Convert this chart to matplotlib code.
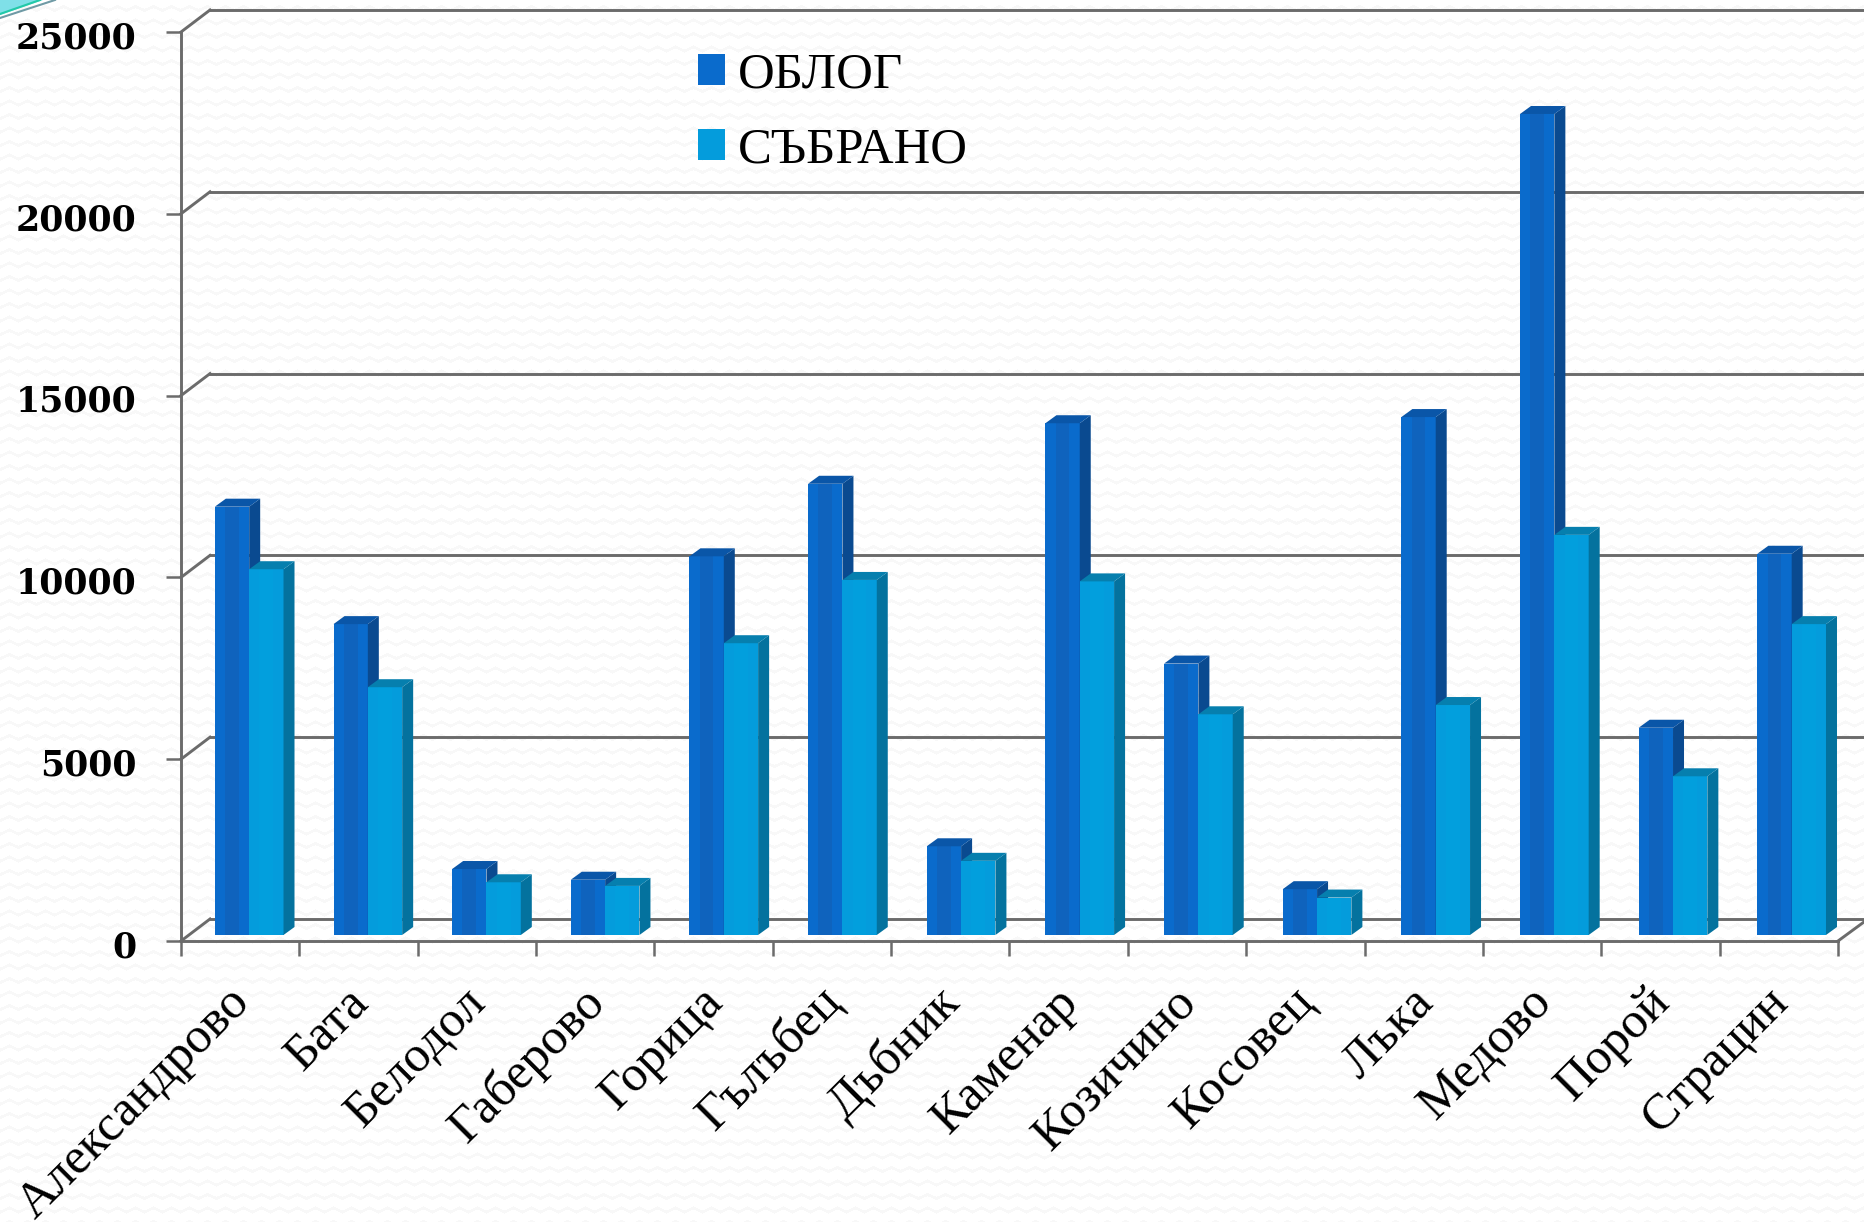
import numpy as np
import matplotlib
matplotlib.use('Agg')
import matplotlib.pyplot as plt
from matplotlib.patches import Patch, Polygon
from matplotlib.transforms import offset_copy

# стойности, отчетени от графиката
villages = ['Александрово', 'Бата', 'Белодол', 'Габерово', 'Горица', 'Гълъбец', 'Дъбник',
            'Каменар', 'Козичино', 'Косовец', 'Лъка', 'Медово', 'Порой', 'Страцин']
oblog = [11780, 8550, 1815, 1520, 10415, 12410, 2440, 14075, 7465, 1260, 14245, 22580, 5700, 10485]
sabrano = [10060, 6815, 1450, 1350, 8025, 9765, 2040, 9725, 6070, 1030, 6325, 11005, 4365, 8550]
y_ticks = [0, 5000, 10000, 15000, 20000, 25000]
series_names = ['ОБЛОГ', 'СЪБРАНО']

W, H = 1864, 1222
GREY = '#6b6b6b'
BAR_W = 0.29
SPACING = 1.0025

fig = plt.figure(figsize=(W / 100, H / 100), dpi=100, facecolor='white')

# фонът е бял с много бледи вълнички
yy, xx = np.mgrid[0:H, 0:W]
wave = np.abs(((xx % 18) / 9.0) - 1) * 4
dist = np.abs(((yy - wave) % 13.5) - 6)
bg = np.where(dist < 1.6, 0.972, 1.0)
fig.figimage(bg, cmap='gray', vmin=0, vmax=1, zorder=-5, origin='upper')

ax = fig.add_axes([181 / W, (H - 941) / H, (1838 - 181) / W, 909 / H])
ax.set_xlim(0, 14)
ax.set_ylim(0, 25000)
ax.patch.set_visible(False)


def shifted(dx, dy):
    return offset_copy(ax.transData, fig=fig, x=dx, y=dy, units='dots')


# задна стена: линиите са изместени с дълбочината
wall = shifted(29, 22)
for v in y_ticks:
    ax.plot([0, 15], [v, v], color=GREY, lw=2.1, transform=wall, clip_on=False, zorder=1)
    x0, y0 = ax.transData.transform((0, v))
    ax.add_line(plt.Line2D([x0, x0 + 29], [y0, y0 + 22], color=GREY, lw=2.1,
                           transform=None, zorder=1, clip_on=False))
x1, y1 = ax.transData.transform((14, 0))
ax.add_line(plt.Line2D([x1, x1 + 30], [y1, y1 + 22], color=GREY, lw=2.1, transform=None, zorder=1,
                       clip_on=False))

# колоните: лице, страна и горна част
front = shifted(9, 6)
styles = [(-BAR_W, oblog, '#0a6bcc', '#0a4a90', '#0a56a8', '#0f63bd'),
          (0, sabrano, '#049cdc', '#04729e', '#067fae', '#029fdd')]
for shift, values, face, side, top, mid in styles:
    for i, v in enumerate(values):
        left = i * SPACING + 0.5 + shift
        z = 3 + i + (0.5 if shift == 0 else 0)
        ax.bar(left, v, width=BAR_W, align='edge', color=face, transform=front, zorder=z, clip_on=False)
        ax.bar(left + BAR_W * 0.3, v, width=BAR_W * 0.4, align='edge', color=mid, transform=front,
               zorder=z, clip_on=False)
        xl, yb = front.transform((left, 0))
        xr, yt = front.transform((left + BAR_W, v))
        ax.add_patch(Polygon([(xr, yb), (xr + 11, yb + 8), (xr + 11, yt + 8), (xr, yt)], closed=True,
                             facecolor=side, transform=None, zorder=z, clip_on=False))
        ax.add_patch(Polygon([(xl, yt), (xl + 11, yt + 8), (xr + 11, yt + 8), (xr, yt)], closed=True,
                             facecolor=top, transform=None, zorder=z, clip_on=False))

# оси
for name in ['top', 'right']:
    ax.spines[name].set_visible(False)
for name in ['left', 'bottom']:
    ax.spines[name].set_color(GREY)
    ax.spines[name].set_linewidth(2.1)
    ax.spines[name].set_zorder(2)
ax.set_xticks(range(15))
ax.set_xticklabels([])
ax.set_yticks(y_ticks)
ax.set_yticklabels([])
ax.tick_params(axis='both', which='major', length=11, width=1.8, color=GREY)

ax.set_xticks([i + 0.38 for i in range(14)], minor=True)
ax.set_xticklabels(villages, minor=True, rotation=45, ha='right', rotation_mode='anchor',
                   family='Liberation Serif', fontsize=36.5, color='black')
ax.tick_params(axis='x', which='minor', length=0, pad=27)

for v in y_ticks:
    ax.annotate(str(v), (0, v), xytext=(-32, -4.5), textcoords='offset points', ha='right', va='center',
                family='DejaVu Serif', weight='bold', fontsize=25, color='black', annotation_clip=False)

ax.legend(handles=[Patch(facecolor='#0a6bcc', label=series_names[0]),
                   Patch(facecolor='#049cdc', label=series_names[1])],
          loc='upper left', bbox_to_anchor=(698 / W, 1 - 52 / H), bbox_transform=fig.transFigure,
          frameon=False, prop={'family': 'Liberation Serif', 'size': 36.5},
          handlelength=0.54, handleheight=0.54, handletextpad=0.24, labelspacing=0.56,
          borderpad=0, borderaxespad=0)

# украсата горе вляво
fig.add_artist(Polygon([(0, 1), (43 / W, 1), (0, 1 - 15 / H)], closed=True, facecolor='#7fe0e8',
                       edgecolor='none', transform=fig.transFigure))
fig.add_artist(plt.Line2D([0, 40 / W], [1 - 14 / H, 1], color='#22c9a8', lw=1.5))
fig.add_artist(plt.Line2D([0, 55 / W], [1 - 18 / H, 1], color='#6f9aa5', lw=1.5))

fig.savefig('out.png', dpi=100, facecolor=fig.get_facecolor())
